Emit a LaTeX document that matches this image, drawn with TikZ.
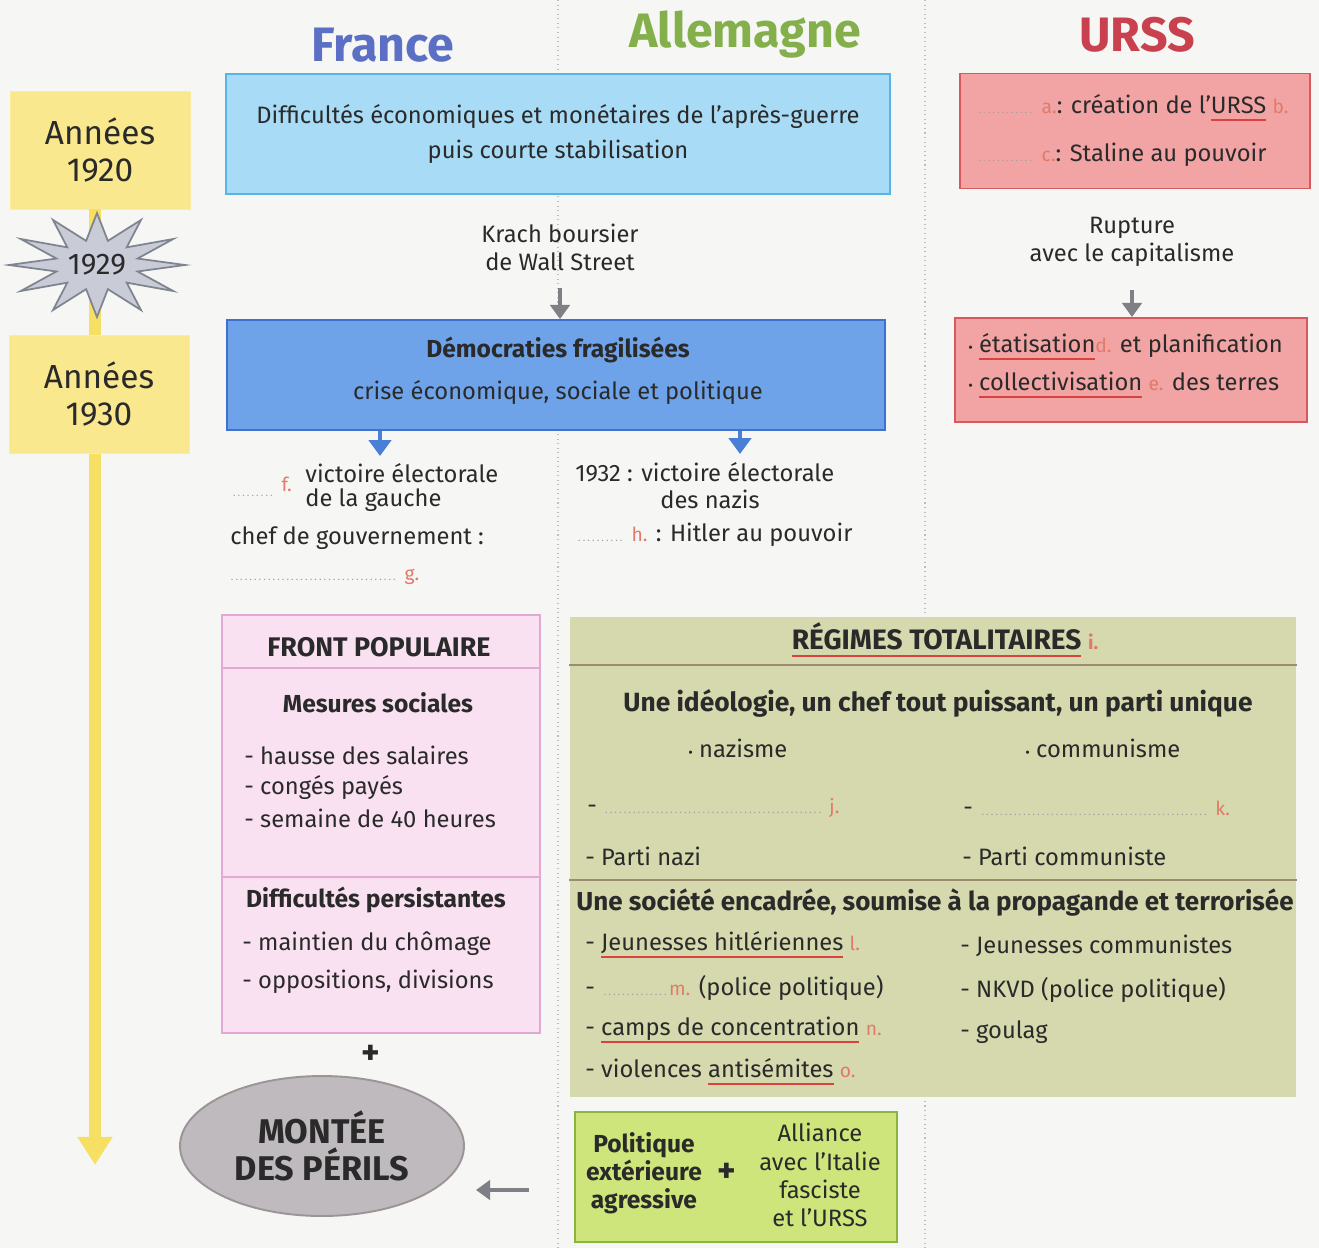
\documentclass[tikz,border=0pt]{standalone}
\usepackage{fontspec}
\setmainfont{Fira Sans}
\usetikzlibrary{arrows.meta,shapes.geometric}

\definecolor{fond}{HTML}{F6F6F4}
\definecolor{encre}{HTML}{2A2A2A}
\definecolor{france}{HTML}{5B6FC4}
\definecolor{allemagne}{HTML}{84B04C}
\definecolor{urss}{HTML}{C9404E}
\definecolor{jaune}{HTML}{F9E88D}
\definecolor{jaunefrise}{HTML}{F6DF62}
\definecolor{etoilefond}{HTML}{C9CCD6}
\definecolor{etoilebord}{HTML}{7F8590}
\definecolor{bleuclair}{HTML}{A8DBF5}
\definecolor{bleuclairbord}{HTML}{58B4E6}
\definecolor{bleu}{HTML}{6EA3EA}
\definecolor{bleubord}{HTML}{3F72CF}
\definecolor{rouge}{HTML}{F2A4A4}
\definecolor{rougebord}{HTML}{D8595D}
\definecolor{rose}{HTML}{F9E1F2}
\definecolor{rosebord}{HTML}{E2A9D6}
\definecolor{kaki}{HTML}{D5D9AD}
\definecolor{kakitrait}{HTML}{9A8C6E}
\definecolor{vert}{HTML}{CDE57A}
\definecolor{vertbord}{HTML}{8DB33F}
\definecolor{perilfond}{HTML}{BFBABD}
\definecolor{perilbord}{HTML}{9B9598}
\definecolor{gris}{HTML}{7F7F86}
\definecolor{fleche}{HTML}{4A7FD8}
\definecolor{lettre}{HTML}{E07A6A}
\definecolor{souligne}{HTML}{D9423F}
\definecolor{pointille}{HTML}{A0A0A0}

% petites lettres rouges, blancs a remplir, mots soulignes
\newcommand\lettre[1]{{\color{lettre}\fontsize{11}{13}\selectfont #1}}
\newcommand\blanc[1]{{\color{pointille}\fontsize{6}{6}\selectfont\makebox[#1]{\dotfill}}}
\newcommand\souligne[1]{\setbox0\hbox{#1}\rlap{\color{souligne}\rule[-4.5pt]{\wd0}{1.3pt}}\box0\relax}

\tikzset{
  texte/.style={font=\fontsize{13.5}{16}\selectfont, text=encre, inner sep=0pt},
  gras/.style={font=\fontsize{14}{16}\selectfont\bfseries, text=encre, inner sep=0pt},
  titre/.style={font=\fontsize{27.5}{30}\selectfont\bfseries, inner sep=0pt},
  annee/.style={fill=jaune, draw=jaunefrise!60, minimum width=3.6cm, minimum height=2.36cm, font=\fontsize{19}{21}\selectfont, text=encre, align=center},
  cadre/.style={draw, line width=1.1pt},
  frise/.style={draw=jaunefrise, line width=6.8pt, -{Triangle[width=19pt,length=16pt]}},
  flechegrise/.style={draw=gris, line width=2.8pt, -{Triangle[width=11pt,length=8pt]}},
  flechebleue/.style={draw=fleche, line width=2.8pt, -{Triangle[width=12.5pt,length=9pt]}},
  pointilles/.style={draw=pointille!70, dotted, line width=0.6pt},
  trait/.style={draw=kakitrait, line width=1.6pt}
}

\begin{document}
\begin{tikzpicture}[x=0.02cm, y=-0.02cm]
  \useasboundingbox[fill=fond] (0,0) rectangle (1319,1248);
  \draw[pointilles] (558,0) -- (558,1248);
  \draw[pointilles] (925,0) -- (925,1248);

  % titres des colonnes
  \node[titre, text=france] (tfr) at (383,45) {France};
  \node[titre, text=allemagne] (tal) at (745,35) {Allemagne};
  \node[titre, text=urss] (tur) at (1137,35) {URSS};

  % frise chronologique
  \coordinate (fin) at (95,1165);
  \node[annee] (a20) at (100,150) {Années\\1920};
  \draw[frise] (a20.south -| fin) -- (fin);
  \filldraw[fill=etoilefond, draw=etoilebord, line width=1pt]
    plot[domain=0:23, samples=24] ({97+(mod(\x,2)==0 ? 88 : 42)*cos(15*\x)}, {265+(mod(\x,2)==0 ? 52 : 25)*sin(15*\x)}) -- cycle;
  \node[texte, font=\fontsize{17}{20}\selectfont] (a29) at (97,265) {1929};
  \node[annee] (a30) at (99,394) {Années\\1930};

  % annees 1920
  \node[cadre, draw=bleuclairbord, fill=bleuclair, minimum width=13.28cm, minimum height=2.4cm, texte, font=\fontsize{13.5}{20}\selectfont, align=center] (b1) at (558,134)
    {Difficultés économiques et monétaires de l'après-guerre\\puis courte stabilisation};
  \node[cadre, draw=rougebord, fill=rouge, minimum width=7cm, minimum height=2.3cm] (u1) at (1135,131) {};
  \node[texte, anchor=west] (u1a) at (975,108) {\blanc{1.2cm} \lettre{a.}: création de l'\souligne{URSS} \lettre{b.}};
  \node[texte, anchor=west] (u1c) at (975,155) {\blanc{1.2cm} \lettre{c.}: Staline au pouvoir};

  % 1929
  \node[texte, align=center] (krach) at (560,247) {Krach boursier\\de Wall Street};
  \node[texte, align=center] (rupt) at (1132,242) {Rupture\\avec le capitalisme};

  % annees 1930
  \node[cadre, draw=bleubord, fill=bleu, minimum width=13.18cm, minimum height=2.2cm] (b2) at (556,375) {};
  \node[gras] (b2a) at (558,350) {Démocraties fragilisées};
  \node[texte] (b2b) at (558,393) {crise économique, sociale et politique};
  \node[cadre, draw=rougebord, fill=rouge, minimum width=7.04cm, minimum height=2.08cm] (u2) at (1131,370) {};
  \node[texte, anchor=west] (u2a) at (968,347) {{\fontsize{8}{8}\selectfont•} \souligne{étatisation}\lettre{d.} et planification};
  \node[texte, anchor=west] (u2b) at (968,385) {{\fontsize{8}{8}\selectfont•} \souligne{collectivisation} \lettre{e.} des terres};

  \draw[flechegrise, shorten <=0.35cm] (krach.south) -- (b2.north -| krach);
  \draw[flechegrise, shorten <=0.45cm] (rupt.south) -- (u2.north -| rupt);

  % France
  \coordinate (ff) at (380,456);
  \draw[flechebleue] (b2.south -| ff) -- (ff);
  \node[texte, anchor=west] (fvic) at (230,487) {\blanc{0.9cm} \raisebox{3pt}{\lettre{f.}}};
  \node[texte, anchor=west] (fvic1) at (305,473) {victoire électorale};
  \node[texte, anchor=west] (fvic2) at (305,500) {de la gauche};
  \node[texte, anchor=west] (fchef) at (230,538) {chef de gouvernement :};
  \node[texte, anchor=west] (fg) at (228,577) {\blanc{3.4cm} \lettre{g.}};

  % Allemagne
  \coordinate (fa) at (740,454);
  \draw[flechebleue] (b2.south -| fa) -- (fa);
  \node[texte, anchor=west] (avic1) at (575,472) {1932 : victoire électorale};
  \node[texte, anchor=west] (avic2) at (660,499) {des nazis};
  \node[texte, anchor=west] (ahit) at (575,535) {\blanc{1.0cm} \lettre{h.} : Hitler au pouvoir};

  % Front populaire
  \node[cadre, draw=rosebord, fill=rose, minimum width=6.36cm, minimum height=8.36cm] (fp) at (381,824) {};
  \draw[rosebord, line width=1.1pt] (fp.west |- 0,668) -- (fp.east |- 0,668);
  \draw[rosebord, line width=1.1pt] (fp.west |- 0,877) -- (fp.east |- 0,877);
  \node[gras, font=\fontsize{15.3}{17}\selectfont\bfseries] (fpt) at (379,647) {FRONT POPULAIRE};
  \node[gras] (fpm) at (378,703) {Mesures sociales};
  \node[texte, anchor=west] (fp1) at (244,755) {- hausse des salaires};
  \node[texte, anchor=west] (fp2) at (244,788) {- congés payés};
  \node[texte, anchor=west] (fp3) at (244,818) {- semaine de 40 heures};
  \node[gras] (fpd) at (376,900) {Difficultés persistantes};
  \node[texte, anchor=west] (fp4) at (242,944) {- maintien du chômage};
  \node[texte, anchor=west] (fp5) at (242,982) {- oppositions, divisions};

  % regimes totalitaires
  \node[fill=kaki, minimum width=14.54cm, minimum height=9.6cm] (tot) at (933,857) {};
  \draw[trait] (tot.west |- 0,665) -- (tot.east |- 0,665);
  \draw[trait] (tot.west |- 0,880) -- (tot.east |- 0,880);
  \node[gras, font=\fontsize{16}{18}\selectfont\bfseries] (tott) at (945,640) {\souligne{RÉGIMES TOTALITAIRES} \lettre{i.}};
  \node[gras, font=\fontsize{15}{17}\selectfont\bfseries] (toti) at (938,703) {Une idéologie, un chef tout puissant, un parti unique};
  \node[texte, anchor=west] (nazi) at (688,748) {{\fontsize{8}{8}\selectfont•} nazisme};
  \node[texte, anchor=west] (comm) at (1025,748) {{\fontsize{8}{8}\selectfont•} communisme};
  \node[texte, anchor=west] (totj) at (587,808) {- \blanc{4.4cm} \lettre{j.}};
  \node[texte, anchor=west] (totk) at (963,808) {- \blanc{4.6cm} \lettre{k.}};
  \node[texte, anchor=west] (pnazi) at (585,856) {- Parti nazi};
  \node[texte, anchor=west] (pcomm) at (962,856) {- Parti communiste};
  \node[gras, font=\fontsize{14.8}{17}\selectfont\bfseries] (tots) at (935,903) {Une société encadrée, soumise à la propagande et terrorisée};
  \node[texte, anchor=west] (jh) at (585,945) {- \souligne{Jeunesses hitlériennes} \lettre{l.}};
  \node[texte, anchor=west] (gest) at (585,988) {- \blanc{1.36cm}\lettre{m.} (police politique)};
  \node[texte, anchor=west] (camps) at (585,1030) {- \souligne{camps de concentration} \lettre{n.}};
  \node[texte, anchor=west] (viol) at (585,1072) {- violences \souligne{antisémites} \lettre{o.}};
  \node[texte, anchor=west] (jc) at (960,946) {- Jeunesses communistes};
  \node[texte, anchor=west] (nkvd) at (960,990) {- NKVD (police politique)};
  \node[texte, anchor=west] (goulag) at (960,1032) {- goulag};

  % montee des perils
  \node[gras, font=\fontsize{20}{20}\selectfont\bfseries] (plus1) at (371,1055) {+};
  \node[ellipse, cadre, draw=perilbord, fill=perilfond, minimum width=5.68cm, minimum height=2.8cm, align=center,
        font=\fontsize{19.5}{21.5}\selectfont\bfseries, text=encre] (peril) at (322,1146) {MONTÉE\\DES PÉRILS};
  \node[cadre, draw=vertbord, fill=vert, minimum width=6.44cm, minimum height=2.6cm] (vert) at (736,1177) {};
  \node[gras, align=center] (pol) at (644,1173) {Politique\\extérieure\\agressive};
  \node[gras, font=\fontsize{20}{20}\selectfont\bfseries] (plus2) at (727,1173) {+};
  \node[texte, align=center] (alli) at (820,1175) {Alliance\\avec l'Italie\\fasciste\\et l'URSS};
  \coordinate (fp0) at (476,1190);
  \draw[flechegrise, shorten <=0.9cm] (vert.west |- fp0) -- (fp0);
\end{tikzpicture}
\end{document}
